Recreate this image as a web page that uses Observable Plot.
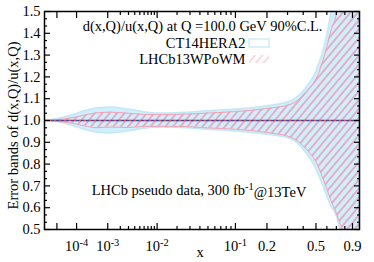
<!DOCTYPE html>
<html><head><meta charset="utf-8">
<script src="https://cdn.jsdelivr.net/npm/d3@7"></script>
<script src="https://cdn.jsdelivr.net/npm/@observablehq/plot@0.6"></script>
<style>
html,body{margin:0;padding:0;background:#fff;}
</style>
</head><body><div id="chart"></div>
<script>
// x grid (momentum fraction)
const xs    = [1e-6, 1e-5, 3e-5, 7e-5, 2e-4, 5e-4, 1.2e-3, 3e-3, 6e-3, 1e-2, 2e-2, 5e-2, 0.1, 0.2, 0.32, 0.42, 0.5, 0.59, 0.64, 0.7, 0.74, 0.77, 0.85, 1];
// CT14HERA2 error band (ratio to central)
const ctHi  = [1.0, 1.006, 1.015, 1.025, 1.042, 1.055, 1.06, 1.05, 1.038, 1.032, 1.033, 1.042, 1.05, 1.065, 1.088, 1.147, 1.22, 1.36, 1.48, 1.7, 1.85, 2.0, 2.3, 2.6];
const ctLo  = [1.0, 0.994, 0.985, 0.975, 0.958, 0.945, 0.94, 0.95, 0.962, 0.968, 0.967, 0.958, 0.95, 0.935, 0.915, 0.853, 0.78, 0.67, 0.61, 0.565, 0.51, 0.47, 0.3, 0.1];
// LHCb13WPoWM error band
const lhHi  = [1.0, 1.003, 1.008, 1.013, 1.025, 1.035, 1.038, 1.033, 1.028, 1.027, 1.028, 1.034, 1.041, 1.055, 1.075, 1.13, 1.19, 1.32, 1.41, 1.49, 1.6, 1.75, 2.1, 2.4];
const lhLo  = [1.0, 0.997, 0.992, 0.987, 0.975, 0.967, 0.97, 0.968, 0.973, 0.973, 0.973, 0.966, 0.96, 0.945, 0.923, 0.87, 0.81, 0.7, 0.635, 0.575, 0.53, 0.5, 0.35, 0.1];
// axis ticks
const xMajor = [1e-5, 1e-4, 1e-3, 1e-2, 0.1, 0.2, 0.5, 0.9];
const xLabeled = [1e-4, 1e-3, 1e-2, 0.1, 0.2, 0.5, 0.9];
const xMinor = [2e-3, 3e-3, 4e-3, 5e-3, 6e-3, 7e-3, 8e-3, 9e-3, 0.02, 0.03, 0.04, 0.05, 0.06, 0.07, 0.08, 0.09, 0.3, 0.4, 0.6, 0.7, 0.8];
const yMajor = [0.5, 0.6, 0.7, 0.8, 0.9, 1.0, 1.1, 1.2, 1.3, 1.4, 1.5];
const yMinor = yMajor.slice(0, -1).flatMap(v => [v + 0.1/3, v + 0.2/3]);
const titleText = "d(x,Q)/u(x,Q) at Q =100.0 GeV 90%C.L.";
const seriesNames = ["CT14HERA2", "LHCb13WPoWM"];
const noteText = "LHCb pseudo data, 300 fb^-1@13TeV";
const yLabel = "Error bands of d(x,Q)/u(x,Q)";
const xLabel = "x";

const data = xs.map((x, i) => ({x, ctLo: ctLo[i], ctHi: ctHi[i], lhLo: lhLo[i], lhHi: lhHi[i]}));
const fmtX = d => d < 0.15 ? `10^${Math.round(Math.log10(d))}` : String(d);
const blank = () => "";
const curve = "monotone-x";

const svg = Plot.plot({
  width: 374, height: 262,
  marginLeft: 44, marginRight: 15, marginTop: 11, marginBottom: 33,
  style: {fontFamily: "'Liberation Serif', 'Times New Roman', serif", fontSize: "14.5px", background: "white", color: "black", overflow: "visible"},
  x: {type: "pow", exponent: 0.2, domain: [1e-6, 1]},
  y: {domain: [0.5, 1.5]},
  marks: [
    Plot.areaY(data, {x: "x", y1: "ctLo", y2: "ctHi", fill: "#d0eefb", stroke: "#c2e8f8", strokeWidth: 1.5, clip: true, curve}),
    Plot.areaY(data, {x: "x", y1: "lhLo", y2: "lhHi", fill: "url(#hatch)", clip: true, curve}),
    Plot.lineY(data, {x: "x", y: "lhHi", stroke: "#f2a2b5", strokeWidth: 1, clip: true, curve}),
    Plot.lineY(data, {x: "x", y: "lhLo", stroke: "#f2a2b5", strokeWidth: 1, clip: true, curve}),
    Plot.ruleY([1], {stroke: "#3c4f9a", strokeWidth: 1.5}),
    Plot.ruleY([1], {stroke: "#e0506a", strokeWidth: 1, strokeDasharray: "2,3"}),
    Plot.axisX(xMajor, {anchor: "bottom", tickSize: -6, tickPadding: 17, tickFormat: d => xLabeled.includes(d) ? fmtX(d) : "", label: null, strokeWidth: 1.2}),
    Plot.axisX(xMinor, {anchor: "bottom", tickSize: -3, tickFormat: blank, label: null, strokeWidth: 1.2}),
    Plot.axisX(xMajor, {anchor: "top", tickSize: -6, tickFormat: blank, label: null, strokeWidth: 1.2}),
    Plot.axisX(xMinor, {anchor: "top", tickSize: -3, tickFormat: blank, label: null, strokeWidth: 1.2}),
    Plot.axisY(yMajor, {anchor: "left", tickSize: -6, tickPadding: 10, tickFormat: d3.format(".1f"), label: null, strokeWidth: 1.2}),
    Plot.axisY(yMinor, {anchor: "left", tickSize: -3, tickFormat: blank, label: null, strokeWidth: 1.2}),
    Plot.axisY(yMajor, {anchor: "right", tickSize: -6, tickFormat: blank, label: null, strokeWidth: 1.2}),
    Plot.axisY(yMinor, {anchor: "right", tickSize: -3, tickFormat: blank, label: null, strokeWidth: 1.2}),
    Plot.frame({stroke: "black", strokeWidth: 1.5}),
    Plot.text([titleText], {text: d => d, frameAnchor: "top-right", lineAnchor: "middle", textAnchor: "end", dx: -37, dy: 15}),
    Plot.text([seriesNames[0]], {text: d => d, frameAnchor: "top-right", lineAnchor: "middle", textAnchor: "end", dx: -114, dy: 32}),
    Plot.text([seriesNames[1]], {text: d => d, frameAnchor: "top-right", lineAnchor: "middle", textAnchor: "end", dx: -114, dy: 48}),
    Plot.text([noteText], {text: d => d, frameAnchor: "bottom", lineAnchor: "middle", textAnchor: "middle", dx: -3, dy: -39}),
    Plot.text([yLabel], {text: d => d, frameAnchor: "left", lineAnchor: "middle", textAnchor: "middle", rotate: -90, dx: -31, dy: 5}),
    Plot.text([xLabel], {text: d => d, frameAnchor: "bottom", lineAnchor: "middle", textAnchor: "middle", dx: -2, dy: 23})
  ]
});

// hatch patterns
const s = d3.select(svg);
const defs = s.insert("defs", ":first-child");
function hatch(id, color, w) {
  const p = defs.append("pattern").attr("id", id).attr("patternUnits", "userSpaceOnUse")
    .attr("width", 5.7).attr("height", 10).attr("patternTransform", "rotate(40)");
  p.append("line").attr("x1", 2.85).attr("y1", 0).attr("x2", 2.85).attr("y2", 10)
    .attr("stroke", color).attr("stroke-width", w);
}
hatch("hatch", "#f07f9b", 1.1);
hatch("hatchLegend", "#f7b3c4", 1);

// superscripts
s.selectAll("text").each(function() {
  const t = this.textContent;
  const m = t.match(/^(.*?)\^(-?\d+)(.*)$/);
  if (!m) return;
  const el = d3.select(this);
  el.text(null);
  el.append("tspan").text(m[1]);
  el.append("tspan").attr("dy", "-0.45em").attr("font-size", "0.72em").text(m[2]);
  if (m[3]) el.append("tspan").attr("dy", "0.45em").text(m[3]);
});

// legend swatches
const lg = s.append("g");
lg.append("rect").attr("x", 249).attr("y", 39).attr("width", 20).attr("height", 8)
  .attr("fill", "white").attr("stroke", "#c2e8f8").attr("stroke-width", 1.2);
lg.append("rect").attr("x", 249).attr("y", 55).attr("width", 20).attr("height", 8)
  .attr("fill", "url(#hatchLegend)");

document.getElementById("chart").appendChild(svg);
</script>
</body></html>
